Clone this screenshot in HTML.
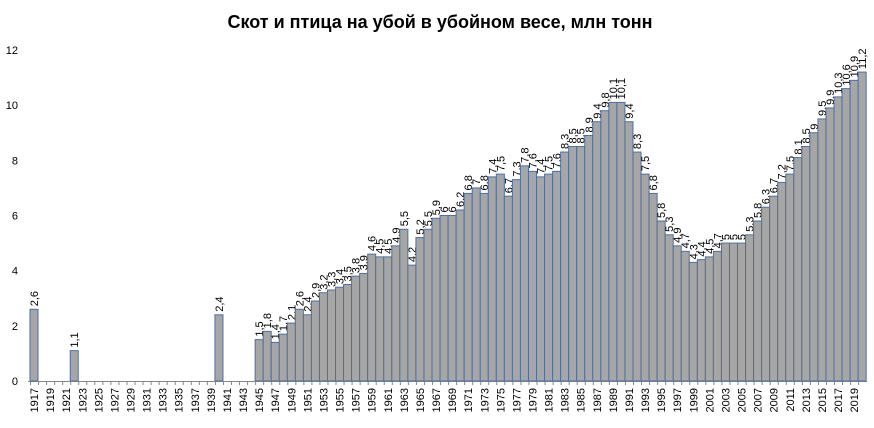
<!DOCTYPE html>
<html><head><meta charset="utf-8"><style>
body{margin:0;background:#fff;font-family:"Liberation Sans",sans-serif}
</style></head><body>
<svg width="874" height="423" id="c">
<text x="440" y="28" text-anchor="middle" font-size="18" font-weight="bold" font-family="Liberation Sans, sans-serif">Скот и птица на убой в убойном весе, млн тонн</text>
</svg>
<script>
const years=[];for(let y=1917;y<=2020;y++)years.push(y);
const early={1917:2.6,1922:1.1,1940:2.4};
const postwar=[1.5,1.8,1.4,1.7,2.1,2.6,2.4,2.9,3.2,3.3,3.4,3.5,3.8,3.9,4.6,4.5,4.5,4.9,5.5,4.2,5.2,5.5,5.9,6,6,6.2,6.8,7,6.8,7.4,7.5,6.7,7.3,7.8,7.6,7.4,7.5,7.6,8.3,8.5,8.5,8.9,9.4,9.8,10.1,10.1,9.4,8.3,7.5,6.8,5.8,5.3,4.9,4.7,4.3,4.4,4.5,4.7,5,5,5,5.3,5.8,6.3,6.7,7.2,7.5,8.1,8.5,9,9.5,9.9,10.3,10.6,10.9,11.2];
const yTicks=[0,2,4,6,8,10,12];
const NS="http://www.w3.org/2000/svg";
const svg=document.getElementById('c');
const x0=30,bw=8.04,y0=381,yk=(381-50)/12;
const X=i=>x0+i*bw, Y=v=>y0-v*yk;
function mk(t,a){const e=document.createElementNS(NS,t);for(const k in a)e.setAttribute(k,a[k]);svg.appendChild(e);return e;}
yTicks.forEach(v=>{const t=mk('text',{x:18,y:Y(v)+4,'text-anchor':'end','font-size':11});t.textContent=v;

});
mk('line',{x1:28,x2:867,y1:y0+0.5,y2:y0+0.5,stroke:'#888'});
years.forEach((yr,i)=>{
 let v=early[yr];if(yr>=1945)v=postwar[yr-1945];
 const tk=mk('line',{x1:X(i)+0.5,x2:X(i)+0.5,y1:y0,y2:y0+4,stroke:'#888'});
 if(v!==undefined){
  const r=mk('rect',{x:X(i),y:Y(v),width:bw,height:v*yk,fill:'#a6a6a6',stroke:'#4f6fa0','stroke-width':1});
  
  
  const cx=X(i)+bw/2+4,cy=Y(v)-3;
  const t=mk('text',{x:cx,y:cy,'font-size':11,transform:`rotate(-90 ${cx} ${cy})`});
  t.textContent=String(v).replace('.',',');
  
  
 }
 if(i%2===0){
  const cx=X(i)+bw/2+4,cy=y0+7;
  const t=mk('text',{x:cx,y:cy,'font-size':11,'text-anchor':'end',transform:`rotate(-90 ${cx} ${cy})`});
  t.textContent=yr;
  
  
 }
});
</script>
</body></html>
